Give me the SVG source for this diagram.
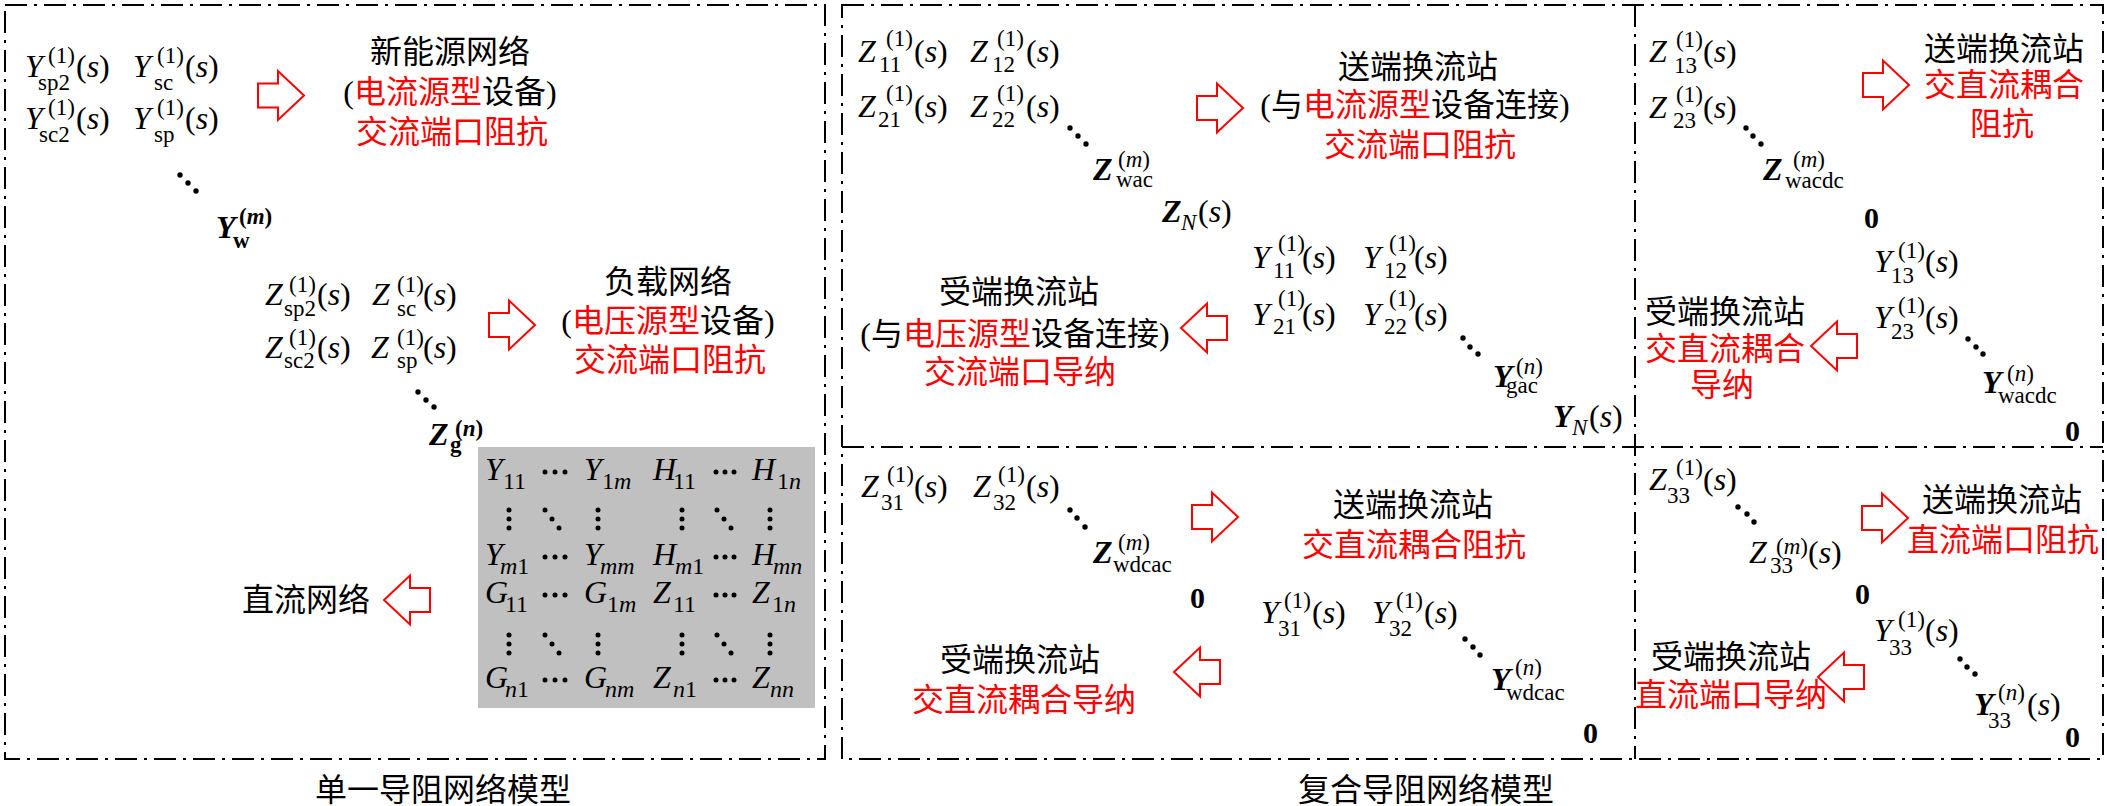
<svg xmlns="http://www.w3.org/2000/svg" xmlns:xlink="http://www.w3.org/1999/xlink" width="2107" height="806" viewBox="0 0 2107 806">
<defs>
<style>
.m{font-family:"Liberation Serif","Noto Sans CJK SC",serif;font-size:32px;fill:#000}
.i{font-style:italic}
.b{font-weight:bold}
.s{font-size:23px}
.ss{font-size:24px}
.z{font-family:"Liberation Serif",serif;font-size:30px;font-weight:bold}
.cn{font-family:"Liberation Serif","Noto Sans CJK SC",serif;font-size:32px;text-anchor:middle;fill:#000}
.red{fill:#ff0000}
.frame{fill:none;stroke:#000;stroke-width:2;stroke-dasharray:22 7 3 7}
.arr{fill:#fff;stroke:#ff0000;stroke-width:2}
.dot{fill:#000}
</style>
<path id="ar" d="M0,-12 H20 V-24.5 L46,0 L20,24.5 V12 H0 Z"/>
</defs>
<rect width="2107" height="806" fill="#fff"/>

<g id="frames">
<rect class="frame" x="5" y="5" width="820" height="754"/>
<rect class="frame" x="842" y="5" width="1261" height="754"/>
<line class="frame" x1="1635" y1="5" x2="1635" y2="759"/>
<line class="frame" x1="842" y1="447" x2="2103" y2="447"/>
</g>

<g id="captions">
<text class="cn" x="443" y="801">单一导阻网络模型</text>
<text class="cn" x="1426" y="801">复合导阻网络模型</text>
</g>

<g id="connectors">
<use xlink:href="#ar" class="arr" transform="translate(258,95.5)"/>
<use xlink:href="#ar" class="arr" transform="translate(489,325)"/>
<use xlink:href="#ar" class="arr" transform="translate(430,600) scale(-1,1)"/>
<use xlink:href="#ar" class="arr" transform="translate(1197,108)"/>
<use xlink:href="#ar" class="arr" transform="translate(1227,328) scale(-1,1)"/>
<use xlink:href="#ar" class="arr" transform="translate(1192,517)"/>
<use xlink:href="#ar" class="arr" transform="translate(1220,672) scale(-1,1)"/>
<use xlink:href="#ar" class="arr" transform="translate(1863,85)"/>
<use xlink:href="#ar" class="arr" transform="translate(1857,346) scale(-1,1)"/>
<use xlink:href="#ar" class="arr" transform="translate(1862,518)"/>
<use xlink:href="#ar" class="arr" transform="translate(1864,677) scale(-1,1)"/>
</g>

<!-- Left panel -->
<g id="node-wind-matrix">
<text class="m"><tspan class="i" x="25" y="77">Y</tspan><tspan class="s" x="48" y="63">(1)</tspan><tspan class="s" x="38" y="90">sp2</tspan><tspan x="76" y="77">(<tspan class="i">s</tspan>)</tspan></text>
<text class="m"><tspan class="i" x="133" y="77">Y</tspan><tspan class="s" x="157" y="63">(1)</tspan><tspan class="s" x="154" y="90">sc</tspan><tspan x="185" y="77">(<tspan class="i">s</tspan>)</tspan></text>
<text class="m"><tspan class="i" x="25" y="129">Y</tspan><tspan class="s" x="48" y="115">(1)</tspan><tspan class="s" x="39" y="142">sc2</tspan><tspan x="76" y="129">(<tspan class="i">s</tspan>)</tspan></text>
<text class="m"><tspan class="i" x="133" y="129">Y</tspan><tspan class="s" x="157" y="115">(1)</tspan><tspan class="s" x="154" y="142">sp</tspan><tspan x="185" y="129">(<tspan class="i">s</tspan>)</tspan></text>
<circle class="dot" cx="180" cy="175" r="2.7"/><circle class="dot" cx="188" cy="183" r="2.7"/><circle class="dot" cx="196" cy="191" r="2.7"/>
<text class="m b"><tspan class="i" x="216" y="238">Y</tspan><tspan class="s" x="239" y="224">(<tspan class="i">m</tspan>)</tspan><tspan class="s" x="233" y="248">w</tspan></text>
</g>

<g id="node-wind-label">
<text class="cn" x="450" y="63">新能源网络</text>
<text class="cn" x="450" y="103">(<tspan class="red">电流源型</tspan>设备)</text>
<text class="cn red" x="452" y="143">交流端口阻抗</text>
</g>

<g id="node-load-matrix">
<text class="m"><tspan class="i" x="265" y="305">Z</tspan><tspan class="s" x="289" y="292">(1)</tspan><tspan class="s" x="284" y="316">sp2</tspan><tspan x="317" y="305">(<tspan class="i">s</tspan>)</tspan></text>
<text class="m"><tspan class="i" x="372" y="305">Z</tspan><tspan class="s" x="397" y="292">(1)</tspan><tspan class="s" x="397" y="316">sc</tspan><tspan x="423" y="305">(<tspan class="i">s</tspan>)</tspan></text>
<text class="m"><tspan class="i" x="265" y="358">Z</tspan><tspan class="s" x="289" y="345">(1)</tspan><tspan class="s" x="284" y="368">sc2</tspan><tspan x="317" y="358">(<tspan class="i">s</tspan>)</tspan></text>
<text class="m"><tspan class="i" x="371" y="358">Z</tspan><tspan class="s" x="397" y="345">(1)</tspan><tspan class="s" x="397" y="368">sp</tspan><tspan x="423" y="358">(<tspan class="i">s</tspan>)</tspan></text>
<circle class="dot" cx="418" cy="392" r="2.7"/><circle class="dot" cx="426" cy="400" r="2.7"/><circle class="dot" cx="434" cy="407" r="2.7"/>
<text class="m b"><tspan class="i" x="429" y="445">Z</tspan><tspan class="s" x="455" y="436">(<tspan class="i">n</tspan>)</tspan><tspan class="s" x="450" y="452">g</tspan></text>
</g>

<g id="node-load-label">
<text class="cn" x="668" y="293">负载网络</text>
<text class="cn" x="668" y="332">(<tspan class="red">电压源型</tspan>设备)</text>
<text class="cn red" x="670" y="371">交流端口阻抗</text>
</g>

<g id="node-dc-matrix">
<rect x="478" y="447" width="337" height="261" fill="#c0c0c0"/>
<text class="m"><tspan class="i" x="485" y="480">Y</tspan><tspan class="ss" x="503" y="489">11</tspan></text>
<text class="m"><tspan class="i" x="584" y="480">Y</tspan><tspan class="ss" x="602" y="489">1<tspan class="i">m</tspan></tspan></text>
<text class="m"><tspan class="i" x="653" y="480">H</tspan><tspan class="ss" x="673" y="489">11</tspan></text>
<text class="m"><tspan class="i" x="752" y="480">H</tspan><tspan class="ss" x="777" y="489">1<tspan class="i">n</tspan></tspan></text>
<text class="m"><tspan class="i" x="485" y="565">Y</tspan><tspan class="ss" x="500" y="574"><tspan class="i">m</tspan>1</tspan></text>
<text class="m"><tspan class="i" x="584" y="565">Y</tspan><tspan class="ss i" x="600" y="574">mm</tspan></text>
<text class="m"><tspan class="i" x="653" y="565">H</tspan><tspan class="ss" x="675" y="574"><tspan class="i">m</tspan>1</tspan></text>
<text class="m"><tspan class="i" x="752" y="565">H</tspan><tspan class="ss i" x="773" y="574">mn</tspan></text>
<text class="m"><tspan class="i" x="485" y="603">G</tspan><tspan class="ss" x="505" y="612">11</tspan></text>
<text class="m"><tspan class="i" x="584" y="603">G</tspan><tspan class="ss" x="607" y="612">1<tspan class="i">m</tspan></tspan></text>
<text class="m"><tspan class="i" x="653" y="603">Z</tspan><tspan class="ss" x="673" y="612">11</tspan></text>
<text class="m"><tspan class="i" x="752" y="603">Z</tspan><tspan class="ss" x="772" y="612">1<tspan class="i">n</tspan></tspan></text>
<text class="m"><tspan class="i" x="485" y="688">G</tspan><tspan class="ss" x="505" y="697"><tspan class="i">n</tspan>1</tspan></text>
<text class="m"><tspan class="i" x="584" y="688">G</tspan><tspan class="ss i" x="605" y="697">nm</tspan></text>
<text class="m"><tspan class="i" x="653" y="688">Z</tspan><tspan class="ss" x="673" y="697"><tspan class="i">n</tspan>1</tspan></text>
<text class="m"><tspan class="i" x="752" y="688">Z</tspan><tspan class="ss i" x="770" y="697">nn</tspan></text>
<g class="dot">
<circle cx="545" cy="472" r="2.5"/><circle cx="555" cy="472" r="2.5"/><circle cx="565" cy="472" r="2.5"/>
<circle cx="716" cy="472" r="2.5"/><circle cx="725" cy="472" r="2.5"/><circle cx="734" cy="472" r="2.5"/>
<circle cx="545" cy="557" r="2.5"/><circle cx="555" cy="557" r="2.5"/><circle cx="565" cy="557" r="2.5"/>
<circle cx="716" cy="557" r="2.5"/><circle cx="725" cy="557" r="2.5"/><circle cx="734" cy="557" r="2.5"/>
<circle cx="545" cy="595" r="2.5"/><circle cx="555" cy="595" r="2.5"/><circle cx="565" cy="595" r="2.5"/>
<circle cx="716" cy="595" r="2.5"/><circle cx="725" cy="595" r="2.5"/><circle cx="734" cy="595" r="2.5"/>
<circle cx="545" cy="680" r="2.5"/><circle cx="555" cy="680" r="2.5"/><circle cx="565" cy="680" r="2.5"/>
<circle cx="716" cy="680" r="2.5"/><circle cx="725" cy="680" r="2.5"/><circle cx="734" cy="680" r="2.5"/>
<circle cx="509" cy="510" r="2.5"/><circle cx="509" cy="519" r="2.5"/><circle cx="509" cy="528" r="2.5"/>
<circle cx="598" cy="510" r="2.5"/><circle cx="598" cy="519" r="2.5"/><circle cx="598" cy="528" r="2.5"/>
<circle cx="682" cy="510" r="2.5"/><circle cx="682" cy="519" r="2.5"/><circle cx="682" cy="528" r="2.5"/>
<circle cx="770" cy="510" r="2.5"/><circle cx="770" cy="519" r="2.5"/><circle cx="770" cy="528" r="2.5"/>
<circle cx="545" cy="510" r="2.5"/><circle cx="552" cy="519" r="2.5"/><circle cx="559" cy="528" r="2.5"/>
<circle cx="717" cy="510" r="2.5"/><circle cx="724" cy="519" r="2.5"/><circle cx="731" cy="528" r="2.5"/>
<circle cx="509" cy="635" r="2.5"/><circle cx="509" cy="644" r="2.5"/><circle cx="509" cy="653" r="2.5"/>
<circle cx="598" cy="635" r="2.5"/><circle cx="598" cy="644" r="2.5"/><circle cx="598" cy="653" r="2.5"/>
<circle cx="682" cy="635" r="2.5"/><circle cx="682" cy="644" r="2.5"/><circle cx="682" cy="653" r="2.5"/>
<circle cx="770" cy="635" r="2.5"/><circle cx="770" cy="644" r="2.5"/><circle cx="770" cy="653" r="2.5"/>
<circle cx="545" cy="635" r="2.5"/><circle cx="552" cy="644" r="2.5"/><circle cx="559" cy="653" r="2.5"/>
<circle cx="717" cy="635" r="2.5"/><circle cx="724" cy="644" r="2.5"/><circle cx="731" cy="653" r="2.5"/>
</g>
</g>

<g id="node-dc-label">
<text class="cn" x="306" y="611">直流网络</text>
</g>

<!-- Middle top panel -->
<g id="node-ac-z">
<text class="m"><tspan class="i" x="858" y="62">Z</tspan><tspan class="s" x="886" y="46">(1)</tspan><tspan class="s" x="879" y="72">11</tspan><tspan x="914" y="62">(<tspan class="i">s</tspan>)</tspan></text>
<text class="m"><tspan class="i" x="970" y="62">Z</tspan><tspan class="s" x="997" y="46">(1)</tspan><tspan class="s" x="992" y="72">12</tspan><tspan x="1026" y="62">(<tspan class="i">s</tspan>)</tspan></text>
<text class="m"><tspan class="i" x="858" y="117">Z</tspan><tspan class="s" x="886" y="101">(1)</tspan><tspan class="s" x="878" y="127">21</tspan><tspan x="914" y="117">(<tspan class="i">s</tspan>)</tspan></text>
<text class="m"><tspan class="i" x="970" y="117">Z</tspan><tspan class="s" x="997" y="101">(1)</tspan><tspan class="s" x="992" y="127">22</tspan><tspan x="1026" y="117">(<tspan class="i">s</tspan>)</tspan></text>
<circle class="dot" cx="1070" cy="128" r="2.7"/><circle class="dot" cx="1078" cy="136" r="2.7"/><circle class="dot" cx="1086" cy="144" r="2.7"/>
<text class="m"><tspan class="i b" x="1093" y="180">Z</tspan><tspan class="s" x="1118" y="167">(<tspan class="i">m</tspan>)</tspan><tspan class="s" x="1116" y="187">wac</tspan></text>
<text class="m"><tspan class="i b" x="1162" y="222">Z</tspan><tspan class="s i" x="1181" y="230">N</tspan><tspan x="1198" y="222">(<tspan class="i">s</tspan>)</tspan></text>
</g>

<g id="node-ac-send-label">
<text class="cn" x="1418" y="78">送端换流站</text>
<text class="cn" x="1415" y="116">(与<tspan class="red">电流源型</tspan>设备连接)</text>
<text class="cn red" x="1420" y="156">交流端口阻抗</text>
</g>

<g id="node-ac-y">
<text class="m"><tspan class="i" x="1252" y="268">Y</tspan><tspan class="s" x="1278" y="251">(1)</tspan><tspan class="s" x="1273" y="278">11</tspan><tspan x="1302" y="268">(<tspan class="i">s</tspan>)</tspan></text>
<text class="m"><tspan class="i" x="1363" y="268">Y</tspan><tspan class="s" x="1389" y="251">(1)</tspan><tspan class="s" x="1384" y="278">12</tspan><tspan x="1414" y="268">(<tspan class="i">s</tspan>)</tspan></text>
<text class="m"><tspan class="i" x="1252" y="325">Y</tspan><tspan class="s" x="1278" y="306">(1)</tspan><tspan class="s" x="1273" y="334">21</tspan><tspan x="1302" y="325">(<tspan class="i">s</tspan>)</tspan></text>
<text class="m"><tspan class="i" x="1363" y="325">Y</tspan><tspan class="s" x="1389" y="306">(1)</tspan><tspan class="s" x="1384" y="334">22</tspan><tspan x="1414" y="325">(<tspan class="i">s</tspan>)</tspan></text>
<circle class="dot" cx="1463" cy="338" r="2.7"/><circle class="dot" cx="1470" cy="347" r="2.7"/><circle class="dot" cx="1478" cy="354" r="2.7"/>
<text class="m"><tspan class="i b" x="1493" y="387">Y</tspan><tspan class="s" x="1516" y="374">(<tspan class="i">n</tspan>)</tspan><tspan class="s" x="1506" y="393">gac</tspan></text>
<text class="m"><tspan class="i b" x="1553" y="427">Y</tspan><tspan class="s i" x="1572" y="435">N</tspan><tspan x="1589" y="427">(<tspan class="i">s</tspan>)</tspan></text>
</g>

<g id="node-ac-recv-label">
<text class="cn" x="1019" y="303">受端换流站</text>
<text class="cn" x="1015" y="345">(与<tspan class="red">电压源型</tspan>设备连接)</text>
<text class="cn red" x="1020" y="383">交流端口导纳</text>
</g>

<!-- Middle bottom panel -->
<g id="node-dcac-z">
<text class="m"><tspan class="i" x="861" y="497">Z</tspan><tspan class="s" x="887" y="482">(1)</tspan><tspan class="s" x="881" y="510">31</tspan><tspan x="914" y="497">(<tspan class="i">s</tspan>)</tspan></text>
<text class="m"><tspan class="i" x="973" y="497">Z</tspan><tspan class="s" x="998" y="482">(1)</tspan><tspan class="s" x="993" y="510">32</tspan><tspan x="1026" y="497">(<tspan class="i">s</tspan>)</tspan></text>
<circle class="dot" cx="1070" cy="510" r="2.7"/><circle class="dot" cx="1077" cy="518" r="2.7"/><circle class="dot" cx="1085" cy="527" r="2.7"/>
<text class="m"><tspan class="i b" x="1093" y="563">Z</tspan><tspan class="s" x="1118" y="550">(<tspan class="i">m</tspan>)</tspan><tspan class="s" x="1113" y="572">wdcac</tspan></text>
<text class="z" x="1190" y="608">0</text>
</g>

<g id="node-dcac-send-label">
<text class="cn" x="1413" y="516">送端换流站</text>
<text class="cn red" x="1414" y="556">交直流耦合阻抗</text>
</g>

<g id="node-dcac-y">
<text class="m"><tspan class="i" x="1261" y="623">Y</tspan><tspan class="s" x="1284" y="608">(1)</tspan><tspan class="s" x="1278" y="636">31</tspan><tspan x="1312" y="623">(<tspan class="i">s</tspan>)</tspan></text>
<text class="m"><tspan class="i" x="1372" y="623">Y</tspan><tspan class="s" x="1396" y="608">(1)</tspan><tspan class="s" x="1389" y="636">32</tspan><tspan x="1424" y="623">(<tspan class="i">s</tspan>)</tspan></text>
<circle class="dot" cx="1465" cy="639" r="2.7"/><circle class="dot" cx="1473" cy="647" r="2.7"/><circle class="dot" cx="1480" cy="655" r="2.7"/>
<text class="m"><tspan class="i b" x="1491" y="690">Y</tspan><tspan class="s" x="1515" y="675">(<tspan class="i">n</tspan>)</tspan><tspan class="s" x="1506" y="700">wdcac</tspan></text>
<text class="z" x="1583" y="743">0</text>
</g>

<g id="node-dcac-recv-label">
<text class="cn" x="1020" y="671">受端换流站</text>
<text class="cn red" x="1024" y="711">交直流耦合导纳</text>
</g>

<!-- Right top panel -->
<g id="node-acdc-z">
<text class="m"><tspan class="i" x="1649" y="62">Z</tspan><tspan class="s" x="1676" y="47">(1)</tspan><tspan class="s" x="1674" y="73">13</tspan><tspan x="1703" y="62">(<tspan class="i">s</tspan>)</tspan></text>
<text class="m"><tspan class="i" x="1649" y="118">Z</tspan><tspan class="s" x="1676" y="102">(1)</tspan><tspan class="s" x="1673" y="128">23</tspan><tspan x="1703" y="118">(<tspan class="i">s</tspan>)</tspan></text>
<circle class="dot" cx="1746" cy="128" r="2.7"/><circle class="dot" cx="1753" cy="136" r="2.7"/><circle class="dot" cx="1761" cy="144" r="2.7"/>
<text class="m"><tspan class="i b" x="1763" y="180">Z</tspan><tspan class="s" x="1793" y="167">(<tspan class="i">m</tspan>)</tspan><tspan class="s" x="1785" y="188">wacdc</tspan></text>
<text class="z" x="1864" y="228">0</text>
</g>

<g id="node-acdc-send-label">
<text class="cn" x="2004" y="60">送端换流站</text>
<text class="cn red" x="2004" y="96">交直流耦合</text>
<text class="cn red" x="2002" y="135">阻抗</text>
</g>

<g id="node-acdc-y">
<text class="m"><tspan class="i" x="1874" y="272">Y</tspan><tspan class="s" x="1898" y="258">(1)</tspan><tspan class="s" x="1891" y="283">13</tspan><tspan x="1925" y="272">(<tspan class="i">s</tspan>)</tspan></text>
<text class="m"><tspan class="i" x="1874" y="328">Y</tspan><tspan class="s" x="1898" y="313">(1)</tspan><tspan class="s" x="1891" y="339">23</tspan><tspan x="1925" y="328">(<tspan class="i">s</tspan>)</tspan></text>
<circle class="dot" cx="1968" cy="339" r="2.7"/><circle class="dot" cx="1976" cy="347" r="2.7"/><circle class="dot" cx="1983" cy="354" r="2.7"/>
<text class="m"><tspan class="i b" x="1982" y="393">Y</tspan><tspan class="s" x="2007" y="381">(<tspan class="i">n</tspan>)</tspan><tspan class="s" x="1998" y="403">wacdc</tspan></text>
<text class="z" x="2065" y="441">0</text>
</g>

<g id="node-acdc-recv-label">
<text class="cn" x="1725" y="323">受端换流站</text>
<text class="cn red" x="1725" y="360">交直流耦合</text>
<text class="cn red" x="1722" y="396">导纳</text>
</g>

<!-- Right bottom panel -->
<g id="node-dc-z">
<text class="m"><tspan class="i" x="1649" y="490">Z</tspan><tspan class="s" x="1676" y="475">(1)</tspan><tspan class="s" x="1667" y="503">33</tspan><tspan x="1703" y="490">(<tspan class="i">s</tspan>)</tspan></text>
<circle class="dot" cx="1738" cy="507" r="2.7"/><circle class="dot" cx="1747" cy="514" r="2.7"/><circle class="dot" cx="1754" cy="522" r="2.7"/>
<text class="m"><tspan class="i" x="1749" y="563">Z</tspan><tspan class="s" x="1776" y="554">(<tspan class="i">m</tspan>)</tspan><tspan class="s" x="1770" y="573">33</tspan><tspan x="1808" y="563">(<tspan class="i">s</tspan>)</tspan></text>
<text class="z" x="1855" y="604">0</text>
</g>

<g id="node-dc-send-label">
<text class="cn" x="2002" y="511">送端换流站</text>
<text class="cn red" x="2003" y="551">直流端口阻抗</text>
</g>

<g id="node-dc-y">
<text class="m"><tspan class="i" x="1874" y="641">Y</tspan><tspan class="s" x="1898" y="627">(1)</tspan><tspan class="s" x="1889" y="655">33</tspan><tspan x="1925" y="641">(<tspan class="i">s</tspan>)</tspan></text>
<circle class="dot" cx="1960" cy="659" r="2.7"/><circle class="dot" cx="1967" cy="667" r="2.7"/><circle class="dot" cx="1975" cy="674" r="2.7"/>
<text class="m"><tspan class="i b" x="1974" y="715">Y</tspan><tspan class="s" x="1998" y="700">(<tspan class="i">n</tspan>)</tspan><tspan class="s" x="1988" y="728">33</tspan><tspan x="2027" y="715">(<tspan class="i">s</tspan>)</tspan></text>
<text class="z" x="2065" y="747">0</text>
</g>

<g id="node-dc-recv-label">
<text class="cn" x="1731" y="668">受端换流站</text>
<text class="cn red" x="1731" y="706">直流端口导纳</text>
</g>
</svg>
